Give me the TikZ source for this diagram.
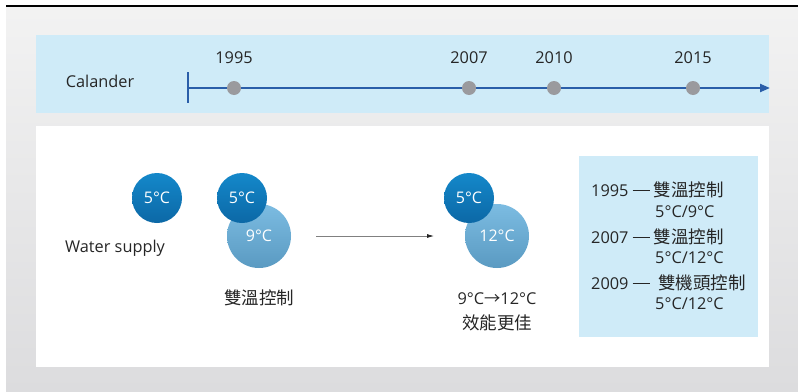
\documentclass[tikz,border=0pt]{standalone}
\usepackage{fontspec}
\setmainfont{Open Sans}
\newfontfamily\cjk{Noto Sans CJK TC}
\usetikzlibrary{arrows.meta}
\definecolor{band}{HTML}{CFEBF8}
\definecolor{tline}{HTML}{2A5EA9}
\definecolor{dotgray}{HTML}{9A9A9E}
\definecolor{txt}{HTML}{262626}
\definecolor{darkA}{HTML}{1488CA}
\definecolor{darkB}{HTML}{0C68A6}
\definecolor{lightA}{HTML}{7CBCE2}
\definecolor{lightB}{HTML}{5A9AC2}
\newcommand{\longdash}{\rule[5.5pt]{17pt}{0.8pt}}
\tikzset{
  lbl/.style={text=txt, font=\fontsize{16.3}{19}\selectfont, inner sep=0pt},
  cjklbl/.style={text=txt, font=\fontsize{17.5}{20}\selectfont\cjk, inner sep=0pt},
  yeardot/.style={circle, fill=dotgray, minimum size=14pt, inner sep=0pt},
  darkc/.style={circle, minimum size=50pt, inner sep=0pt, top color=darkA, bottom color=darkB, text=white, font=\fontsize{16}{19}\selectfont},
  lightc/.style={circle, minimum size=64pt, inner sep=0pt, top color=lightA, bottom color=lightB, text=white, font=\fontsize{16}{19}\selectfont},
}
\begin{document}
\begin{tikzpicture}[x=1pt,y=-1pt]
\useasboundingbox (0,0) rectangle (798,391);
\fill[white] (0,0) rectangle (798,391);
\shade[top color=gray!10, bottom color={rgb,255:red,220;green,220;blue,222}] (6,6) rectangle (798,391);
\draw[black, line width=1.2pt] (6,6) -- (798,6);
% band
\fill[band] (36,35) rectangle (769,113);
\node[lbl] (cal) at (100,81) {Calander};
\coordinate (tstart) at (188,88);
\coordinate (tend) at (770,88);
\coordinate (vtop) at (188,72);
\coordinate (vbot) at (188,103);
\draw[tline, line width=2.8pt] (vtop) -- (vbot);
\draw[tline, line width=2.2pt, -{Triangle[length=10pt,width=8pt]}] (tstart) -- (tend);
\node[yeardot] (d1995) at (234,88) {};
\node[yeardot] (d2007) at (469,88) {};
\node[yeardot] (d2010) at (554,88) {};
\node[yeardot] (d2015) at (693,88) {};
\node[lbl] (y1995) at (234,58) {1995};
\node[lbl] (y2007) at (469,58) {2007};
\node[lbl] (y2010) at (554,58) {2010};
\node[lbl] (y2015) at (693,58) {2015};
% panel
\fill[white] (36,126) rectangle (769,367);
\node[darkc] (w5) at (157,198) {5°C};
\node[lbl] (ws) at (115,248) {Water supply};
\node[lightc] (b9) at (259,236) {9°C};
\node[darkc] (b5) at (242,198) {5°C};
\node[cjklbl] (bl) at (259,298) {雙溫控制};
\coordinate (as) at (316,236);
\coordinate (ae) at (434,236);
\draw[gray, line width=0.8pt, -{Latex[length=7pt,width=4pt,color=txt]}] (as) -- (ae);
\node[lightc] (c12) at (497,236) {12°C};
\node[darkc] (c5) at (469,198) {5°C};
\node[lbl] (cl1) at (497,299) {9°C{\cjk →}12°C};
\node[cjklbl] (cl2) at (497,323) {效能更佳};
% info box
\fill[band] (579,156) rectangle (758,337);
\node[lbl, anchor=west] (i1) at (591,190) {1995 \longdash{} {\fontsize{17.5}{20}\selectfont\cjk 雙溫控制}};
\node[lbl, anchor=west] (i2) at (655,212) {5°C/9°C};
\node[lbl, anchor=west] (i3) at (591,237) {2007 \longdash{} {\fontsize{17.5}{20}\selectfont\cjk 雙溫控制}};
\node[lbl, anchor=west] (i4) at (655,258) {5°C/12°C};
\node[lbl, anchor=west] (i5) at (591,283) {2009 \longdash\ \ {\fontsize{17.5}{20}\selectfont\cjk 雙機頭控制}};
\node[lbl, anchor=west] (i6) at (655,304) {5°C/12°C};
\end{tikzpicture}
\end{document}
